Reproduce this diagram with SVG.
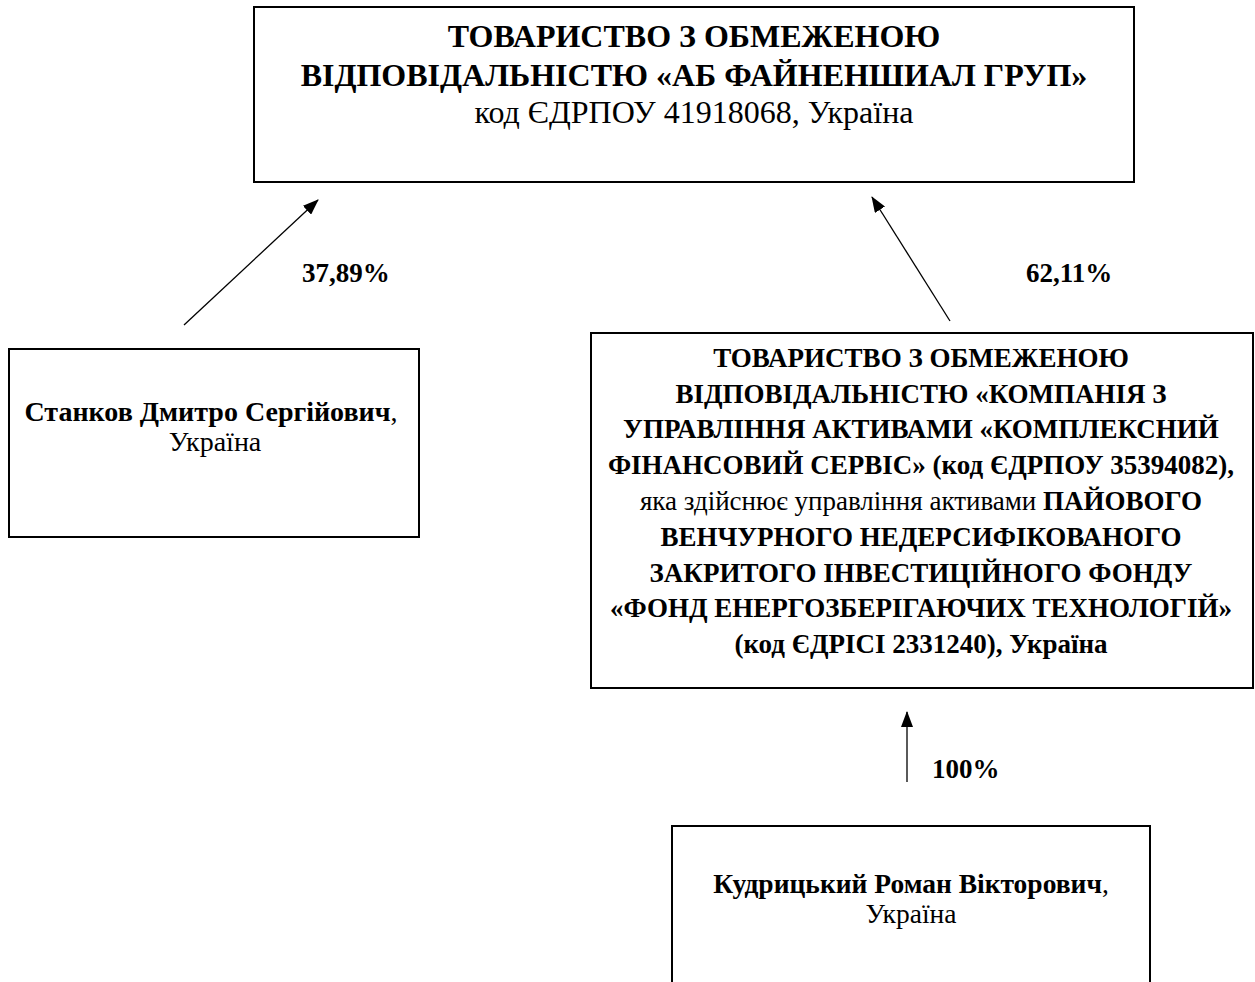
<svg xmlns="http://www.w3.org/2000/svg" width="1255" height="982" viewBox="0 0 1255 982">
<style>
  .box { fill: #ffffff; stroke: #000000; stroke-width: 2; }
  .t { font-family: "Liberation Serif", "Times New Roman", serif; fill: #000000; text-anchor: middle; }
  .b { font-weight: bold; }
  .n { font-weight: normal; }
  .conn { stroke: #000000; stroke-width: 1.3; fill: none; marker-end: url(#arrow); }
  .lbl { font-family: "Liberation Serif", "Times New Roman", serif; font-weight: bold; font-size: 27px; fill: #000000; }
</style>
<defs>
  <marker id="arrow" viewBox="0 0 16 12" refX="15" refY="6" markerWidth="16" markerHeight="12" markerUnits="userSpaceOnUse" orient="auto">
    <path d="M0,0 L16,6 L0,12 z" fill="#000000"/>
  </marker>
</defs>
<rect width="1255" height="982" fill="#ffffff"/>

<g id="node-ab-financial">
  <rect class="box" x="254" y="7" width="880" height="175"/>
  <text class="t b" x="694" y="47" font-size="32">ТОВАРИСТВО З ОБМЕЖЕНОЮ</text>
  <text class="t b" x="694" y="86" font-size="32">ВІДПОВІДАЛЬНІСТЮ «АБ ФАЙНЕНШИАЛ ГРУП»</text>
  <text class="t n" x="694" y="123" font-size="32">код ЄДРПОУ 41918068, Україна</text>
</g>

<g id="node-stankov">
  <rect class="box" x="9" y="349" width="410" height="188"/>
  <text class="t" x="211" y="421" font-size="28"><tspan class="b">Станков Дмитро Сергійович</tspan><tspan class="n">,</tspan></text>
  <text class="t n" x="215" y="451" font-size="28">Україна</text>
</g>

<g id="node-kusa">
  <rect class="box" x="591" y="333" width="662" height="355"/>
  <text class="t b" x="921" y="367" font-size="27">ТОВАРИСТВО З ОБМЕЖЕНОЮ</text>
  <text class="t b" x="921" y="403" font-size="27">ВІДПОВІДАЛЬНІСТЮ «КОМПАНІЯ З</text>
  <text class="t b" x="921" y="438" font-size="27">УПРАВЛІННЯ АКТИВАМИ «КОМПЛЕКСНИЙ</text>
  <text class="t b" x="921" y="474" font-size="27">ФІНАНСОВИЙ СЕРВІС» (код ЄДРПОУ 35394082),</text>
  <text class="t" x="921" y="510" font-size="27"><tspan class="n">яка здійснює управління активами </tspan><tspan class="b">ПАЙОВОГО</tspan></text>
  <text class="t b" x="921" y="546" font-size="27">ВЕНЧУРНОГО НЕДЕРСИФІКОВАНОГО</text>
  <text class="t b" x="921" y="582" font-size="27">ЗАКРИТОГО ІНВЕСТИЦІЙНОГО ФОНДУ</text>
  <text class="t b" x="921" y="617" font-size="27">«ФОНД ЕНЕРГОЗБЕРІГАЮЧИХ ТЕХНОЛОГІЙ»</text>
  <text class="t b" x="921" y="653" font-size="27">(код ЄДРІСІ 2331240), Україна</text>
</g>

<g id="node-kudrytskyi">
  <rect class="box" x="672" y="826" width="478" height="200"/>
  <text class="t" x="911" y="893" font-size="27.5"><tspan class="b">Кудрицький Роман Вікторович</tspan><tspan class="n">,</tspan></text>
  <text class="t n" x="911" y="923" font-size="27.5">Україна</text>
</g>

<g id="connectors">
  <line class="conn" x1="184" y1="325" x2="318" y2="200"/>
  <line class="conn" x1="950" y1="321" x2="872" y2="197"/>
  <line class="conn" x1="907" y1="782" x2="907" y2="712"/>
  <text class="lbl" x="302" y="282">37,89%</text>
  <text class="lbl" x="1026" y="282">62,11%</text>
  <text class="lbl" x="932" y="778">100%</text>
</g>
</svg>
